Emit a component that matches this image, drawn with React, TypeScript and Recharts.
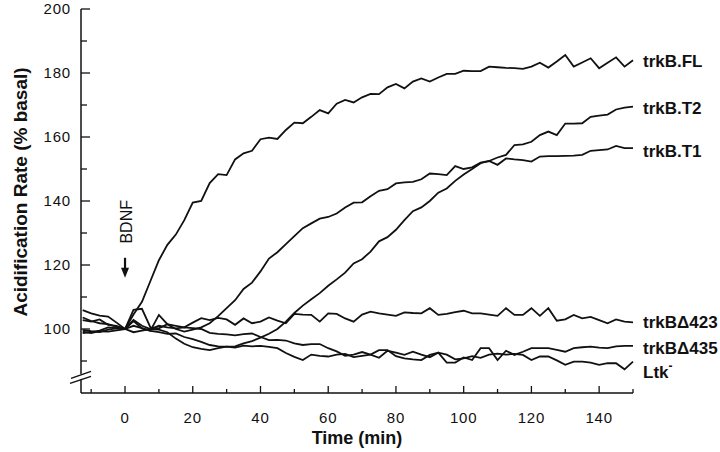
import { LineChart, Line, XAxis, YAxis, ReferenceDot } from 'recharts'

const times = [
  -12.5, -10, -7.5, -5, -2.5, 0, 2.5, 5, 7.5, 10,
  12.5, 15, 17.5, 20, 22.5, 25, 27.5, 30, 32.5, 35,
  37.5, 40, 42.5, 45, 47.5, 50, 52.5, 55, 57.5, 60,
  62.5, 65, 67.5, 70, 72.5, 75, 77.5, 80, 82.5, 85,
  87.5, 90, 92.5, 95, 97.5, 100, 102.5, 105, 107.5, 110,
  112.5, 115, 117.5, 120, 122.5, 125, 127.5, 130, 132.5, 135,
  137.5, 140, 142.5, 145, 147.5, 150,
]

const trkBFL = [
  99.7, 99.3, 99.0, 99.8, 100.2, 100, 104.5, 108.5, 115, 121.5,
  126.3, 129.5, 134, 139.5, 140, 145.6, 148.4, 148.1, 153, 154.9,
  155.7, 159.3, 159.8, 159.4, 162.2, 164.5, 164.3, 166.3, 168.4, 167.4,
  170.4, 171.6, 170.8, 172.4, 173.5, 173.4, 175.5, 176.6, 175.2, 177.3,
  178.3, 177.3, 178.6, 179.7, 179.7, 180.7, 180.6, 180.6, 182, 181.8,
  181.6, 181.5, 181.3, 182, 183.2, 181.7, 183.6, 185.6, 182, 183.3,
  184.6, 181.5, 183.2, 184.9, 182, 184,
]

const trkBT2 = [
  105.9, 104.9, 104.2, 103.9, 102, 100, 101, 100.3, 99.4, 99,
  98.5, 98.6, 97.5, 96.8, 96, 95, 94.6, 94.5, 94.6, 95.5,
  96.2, 97.3, 98.5, 100, 102.3, 105, 107.3, 109.3, 111.2, 113.5,
  115.5, 117.6, 120.5, 121.8, 124.2, 127.4, 128.7, 131, 134, 136.8,
  138, 140, 142.6, 143.9, 146.3, 148.3, 150, 151.8, 152.5, 153.6,
  154.4, 157.5, 157.7, 158.5, 160.6, 161.7, 160.6, 164.2, 164.2, 164.3,
  166.3, 166.7, 167, 168.6, 169.2, 169.5,
]

const trkBT1 = [
  103.6, 102.5, 101.8, 101.5, 100.7, 100, 102.5, 100.2, 99.5, 104.4,
  101.5, 100, 99.2, 99.8, 100.5, 101.8, 104, 106.5, 109, 112.5,
  114.5, 118, 122, 124, 126.5, 129, 131.5, 133, 134.5, 135,
  136.1, 138, 139.5, 139.6, 141.5, 143.2, 143.7, 145.5, 145.8, 146,
  146.8, 148.6, 148.4, 148.1, 150.9, 150, 150.5, 152, 152.5, 151.3,
  153.3, 153, 152.8, 152.3, 153.9, 154, 154, 154.1, 154.2, 154.4,
  155.7, 155.9, 156.1, 157.2, 156.5, 156.5,
]

const trkBD423 = [
  98.7, 99, 99.5, 100.5, 100.3, 100, 106, 106.3, 100.5, 100.2,
  101.5, 101, 100.5, 102, 103.4, 102.8, 103.5, 103, 101.3, 103.3,
  101.8, 102.3, 103.6, 102.6, 101.8, 104.7, 104.5, 104.4, 102.3, 104.9,
  104.7, 103.3, 102.3, 104.5, 105.4, 104.9, 104.5, 104.1, 105.2, 105,
  104.9, 106.5, 104.4, 104.7, 105.3, 105.7, 104.9, 104.9, 104.5, 104.1,
  106.5, 104.4, 104.4, 106.5, 104.1, 106.5, 102.6, 103, 104.4, 103.3,
  103.8, 102.8, 101.8, 103, 102.3, 102.1,
]

const trkBD435 = [
  102.8, 102.3, 103, 101.3, 101, 100, 102.8, 101, 100, 101,
  100.5, 100.2, 100.5, 100.3, 100, 98.8, 98.5, 98.3, 98, 98.4,
  98.6, 97.5, 96.5, 96.6, 96.4, 95.5, 95, 95.3, 95.3, 94,
  93, 91.6, 92, 92.8, 92, 91, 93.2, 92.6, 91.9, 92.9,
  92, 91.2, 92.6, 89.5, 89.5, 91.1, 90.3, 94, 94, 90.3,
  93.2, 91.9, 92.9, 94, 94, 94, 93.5, 92.9, 94, 94.3,
  94.5, 94.2, 94, 94.6, 94.7, 94.7,
]

const ltk = [
  99.2, 98.7, 99.3, 99.2, 99.6, 100, 99, 99.5, 100, 99.8,
  99, 97, 95.4, 94.3, 93.8, 93.4, 94, 94.5, 94.2, 94.8,
  94.6, 94.7, 94.4, 94, 92.5, 91.3, 90.3, 92, 91.6, 91.4,
  92, 92.2, 91.2, 91.6, 92, 93.4, 93.4, 91.5, 90.8, 90.5,
  90.3, 91.9, 92.6, 92, 90.5, 90.8, 91.5, 91, 92, 92.3,
  92, 92.2, 91.9, 90.3, 91.4, 91.4, 90.2, 88.8, 89.8, 89.8,
  89.5, 88.8, 89.3, 89.3, 87.4, 89.8,
]

const xTicks = [-10, 0, 10, 20, 30, 40, 50, 60, 70, 80, 90, 100, 110, 120, 130, 140, 150]
const xLabels = [0, 20, 40, 60, 80, 100, 120, 140]
const yTicks = [90, 100, 110, 120, 130, 140, 150, 160, 170, 180, 190, 200]
const yLabels = [100, 120, 140, 160, 180, 200]

const data = times.map((t, i) => ({
  t,
  fl: trkBFL[i],
  t2: trkBT2[i],
  t1: trkBT1[i],
  d423: trkBD423[i],
  d435: trkBD435[i],
  ltk: ltk[i],
}))

const FONT = '"Liberation Sans", Arial, Helvetica, sans-serif'
const INK = '#111'

const seriesLabels = [
  { key: 'fl', name: 'trkB.FL', dy: 1 },
  { key: 't2', name: 'trkB.T2', dy: 1.5 },
  { key: 't1', name: 'trkB.T1', dy: 3 },
  { key: 'd423', name: 'trkB\u0394423', dy: 0 },
  { key: 'd435', name: 'trkB\u0394435', dy: 2 },
  { key: 'ltk', name: 'Ltk', dy: 10, sup: '-' },
]

const XTick = (props: any) => {
  const { x, y, payload } = props
  const v = payload.value
  const major = xLabels.includes(v)
  return (
    <g>
      <line x1={x} x2={x} y1={y} y2={y - (major ? 7 : 4)} stroke={INK} strokeWidth={1.3} />
      {major && (
        <text x={x} y={y + 29.5} textAnchor="middle" fontFamily={FONT} fontSize={15} letterSpacing={0.8} fill={INK}>
          {v}
        </text>
      )}
    </g>
  )
}

const YTick = (props: any) => {
  const { x, y, payload } = props
  const v = payload.value
  const major = yLabels.includes(v)
  return (
    <g>
      <line x1={x} x2={x + (major ? 9 : 6)} y1={y} y2={y} stroke={INK} strokeWidth={1.3} />
      {major && (
        <text x={x - 10} y={y + 5.4} textAnchor="end" fontFamily={FONT} fontSize={15} letterSpacing={0.8} fill={INK}>
          {v}
        </text>
      )}
    </g>
  )
}

const AxisBreak = (props: any) => {
  const { cx, cy } = props
  return (
    <g>
      <polygon points={`${cx - 4},${cy + 0} ${cx + 4},${cy - 3} ${cx + 4},${cy + 2} ${cx - 4},${cy + 5}`} fill="#fff" />
      <line x1={cx - 10} y1={cy + 3} x2={cx + 10} y2={cy - 4} stroke={INK} strokeWidth={1.4} />
      <line x1={cx - 11} y1={cy + 8} x2={cx + 10} y2={cy + 1} stroke={INK} strokeWidth={1.4} />
    </g>
  )
}

const BdnfArrow = (props: any) => {
  const { cx, cy } = props
  return (
    <g>
      <line x1={cx} x2={cx} y1={cy - 20} y2={cy - 8} stroke={INK} strokeWidth={2.2} />
      <polygon points={`${cx - 4},${cy - 10} ${cx + 4},${cy - 10} ${cx},${cy}`} fill={INK} />
      <text
        x={cx + 1}
        y={cy - 56}
        transform={`rotate(-90 ${cx + 1} ${cy - 56})`}
        textAnchor="middle"
        dominantBaseline="central"
        fontFamily={FONT}
        fontSize={16}
        fill={INK}
      >
        BDNF
      </text>
    </g>
  )
}

const endLabel = (name: string, dy: number, sup?: string) => (props: any) => {
  const { cx, cy } = props
  return (
    <text x={cx + 10} y={cy + dy + 6} fontFamily={FONT} fontSize={17} fontWeight="bold" fill={INK}>
      {name}
      {sup && (
        <tspan fontSize={12} dy={-8}>
          {sup}
        </tspan>
      )}
    </text>
  )
}

const keys = ['fl', 't2', 't1', 'd423', 'd435', 'ltk']

export default function App() {
  const last = data[data.length - 1] as any
  return (
    <div style={{ position: 'absolute', left: 0, top: 0, width: 720, height: 452, background: '#fff' }}>
      <LineChart width={720} height={452} data={data} margin={{ top: 9, right: 87, bottom: 0, left: 0 }}>
        <XAxis
          dataKey="t"
          type="number"
          domain={[-13, 150]}
          ticks={xTicks}
          interval={0}
          height={59}
          tickSize={0}
          tickMargin={0}
          tickLine={false}
          tick={<XTick />}
          axisLine={{ stroke: INK, strokeWidth: 1.5 }}
          label={() => (
            <text x={357} y={444} textAnchor="middle" fontFamily={FONT} fontSize={18} fontWeight="bold" fill={INK}>
              Time (min)
            </text>
          )}
        />
        <YAxis
          type="number"
          domain={[80, 200]}
          ticks={yTicks}
          interval={0}
          width={81}
          tickSize={0}
          tickMargin={0}
          tickLine={false}
          tick={<YTick />}
          axisLine={{ stroke: INK, strokeWidth: 1.5 }}
          label={() => (
            <text
              x={20}
              y={192}
              transform="rotate(-90 20 192)"
              textAnchor="middle"
              dominantBaseline="central"
              fontFamily={FONT}
              fontSize={19}
              fontWeight="bold"
              fill={INK}
            >
              Acidification Rate (% basal)
            </text>
          )}
        />
        {keys.map((k) => (
          <Line
            key={k}
            dataKey={k}
            type="linear"
            stroke={INK}
            strokeWidth={1.8}
            dot={false}
            isAnimationActive={false}
          />
        ))}
        {seriesLabels.map((s) => (
          <ReferenceDot
            key={s.key}
            x={last.t}
            y={last[s.key]}
            shape={endLabel(s.name, s.dy, s.sup)}
          />
        ))}
        <ReferenceDot x={0} y={116} shape={BdnfArrow} />
        <ReferenceDot x={-13} y={85.5} shape={AxisBreak} />
      </LineChart>
    </div>
  )
}
